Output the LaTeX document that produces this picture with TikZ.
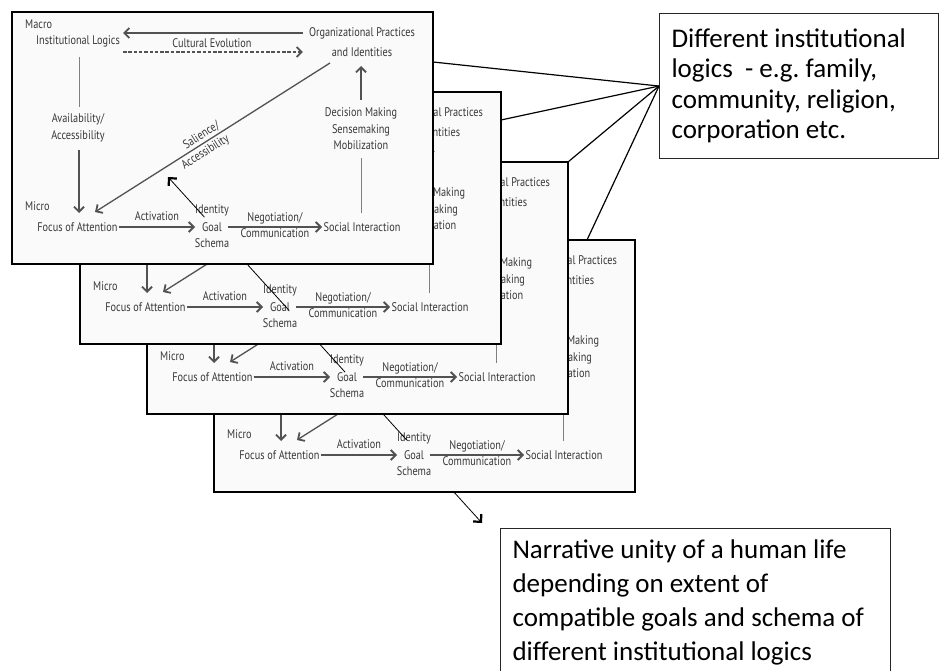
\documentclass[tikz,border=0pt]{standalone}
\usepackage{fontspec}
\setmainfont{Carlito}
\newfontfamily\cardfont[FakeStretch=0.82]{PT Sans}
\usetikzlibrary{arrows.meta,calc}
\frenchspacing

\tikzset{
  cardframe/.style={draw=black, line width=1.1pt, fill=black!2, minimum width=421pt,
    minimum height=252pt, anchor=north west, inner sep=0pt, outer sep=0pt},
  lbl/.style={font=\cardfont\fontsize{12.5}{16.5}\selectfont, text=black!78,
    inner sep=0pt, align=center},
  flow/.style={draw=black!68, line width=1.3pt,
    -{Straight Barb[length=5pt,width=10pt,line width=1.8pt]}},
  flowdash/.style={flow, dash pattern=on 3.5pt off 1.8pt},
  plain/.style={draw=black!50, line width=1pt},
  thinarrow/.style={draw=black, line width=0.8pt},
  bigbarb/.style={-{Straight Barb[length=5.5pt,width=11pt,line width=2.2pt]}},
  pointer/.style={draw=black, line width=1.2pt},
  callbox/.style={draw=black!85, line width=1.1pt, fill=white, anchor=north west,
    align=flush left, inner xsep=12pt, inner ysep=0pt},
}

% One page of the model: frame, labels and its arrows; #1 = name prefix,
% (#2,#3) = top-left corner
\newcommand\drawcard[3]{%
  \begin{scope}[shift={(#2,#3)}]
    \node[cardframe] (#1) at (0,0) {};
    \node[lbl, anchor=west] (#1macro) at (13,12) {Macro};
    \node[lbl] (#1inst) at (66,29) {Institutional Logics};
    \node[lbl] (#1orgA) at (350,21) {Organizational Practices};
    \node[lbl] (#1orgB) at (350,40) {and Identities};
    \node[lbl] (#1cult) at (200,31) {Cultural Evolution};
    \node[lbl] (#1avail) at (66,116) {Availability/\\Accessibility};
    \node[lbl] (#1dec) at (349,117) {Decision Making\\Sensemaking\\Mobilization};
    \node[lbl, anchor=west] (#1micro) at (13,194) {Micro};
    \node[lbl] (#1foc) at (65.5,215) {Focus of Attention};
    \node[lbl] (#1act) at (145,204) {Activation};
    \node[lbl] (#1iden) at (200,198) {Identity};
    \node[lbl] (#1goal) at (200,215) {Goal};
    \node[lbl] (#1sch) at (200,231) {Schema};
    \node[lbl] (#1nego) at (263,206) {Negotiation/};
    \node[lbl] (#1comm) at (263,221) {Communication};
    \node[lbl] (#1soc) at (350,215) {Social Interaction};
    % macro level
    \draw[flow] ($(#1orgA.west)+(-6,0)$) -- ($(#1orgA.west -| #1inst.east)+(3,0)$);
    \draw[flowdash] ($(#1orgB.west -| #1inst.east)+(3,0)$) -- ($(#1orgB.west -| #1orgA.west)+(-6,0)$);
    % macro to micro
    \draw[plain] ($(#1inst.center)+(1,16)$) -- ($(#1avail.center)+(1,-21)$);
    \draw[flow] ($(#1avail.center)+(1,22)$) -- ($(#1foc.center)+(1.5,-14)$);
    \coordinate (#1dA) at ($(#1orgB.center)+(-32,11)$);
    \coordinate (#1dB) at ($(#1foc.center)+(17.5,-15)$);
    \draw[flow] (#1dA) -- (#1dB);
    \node[lbl, rotate=32.4, anchor=south, inner ysep=2pt] (#1sal)
      at ($(#1dA)!0.53!(#1dB)$) {Salience/};
    \node[lbl, rotate=32.4, anchor=north, inner ysep=3pt] (#1acc)
      at ($(#1dA)!0.55!(#1dB)$) {Accessibility};
    % micro level
    \draw[flow] ($(#1foc.center)+(41,0)$) -- ($(#1goal.center)+(-17,0)$);
    \draw[flow] ($(#1goal.center)+(16,0)$) -- ($(#1soc.center)+(-40,0)$);
    % micro to macro
    \draw[plain] ($(#1soc.center)+(-1,-14)$) -- ($(#1dec.center)+(0,29)$);
    \draw[flow] ($(#1dec.center)+(0,-29)$) -- ($(#1orgB.center)+(-1,14)$);
  \end{scope}}

\begin{document}
\begin{tikzpicture}[x=1pt, y=-1pt]
  \useasboundingbox (0,0) rectangle (939,671);
  \fill[white] (0,0) rectangle (939,671);

  % the straight line that runs from the top page to the lower callout
  \coordinate (lnA) at (168,177);
  \coordinate (lnB) at (482,523);

  % stacked pages, back to front
  \drawcard{c4}{214}{240}
  \draw[thinarrow] ($(lnA)!0.645!(lnB)$) -- ($(lnA)!0.760!(lnB)$);
  \drawcard{c3}{147}{162}
  \draw[thinarrow] ($(lnA)!0.413!(lnB)$) -- ($(lnA)!0.564!(lnB)$);
  \drawcard{c2}{80}{92}
  \draw[thinarrow] ($(lnA)!0.182!(lnB)$) -- ($(lnA)!0.384!(lnB)$);
  \drawcard{c1}{12}{12}
  \draw[thinarrow, bigbarb] ($(lnA)!0.116!(lnB)$) -- (lnA);

  % callouts
  \node[callbox, minimum width=279pt, minimum height=145pt, text width=255pt,
        font=\fontsize{27}{30.5}\selectfont] (call1) at (659,13)
        {Different institutional\\logics\ \ - e.g. family,\\community, religion,\\corporation etc.};
  \node[callbox, minimum width=390pt, minimum height=148pt, text width=366pt,
        font=\fontsize{27}{34}\selectfont] (call2) at (500,528)
        {Narrative unity of a human life\\depending on extent of\\compatible goals and schema of\\different institutional logics};

  \draw[pointer] (call1.west) -- ($(c1.north east)+(0,50)$);
  \draw[pointer] (call1.west) -- ($(c2.north east)+(0,28)$);
  \draw[pointer] (call1.west) -- (c3.north east);
  \draw[pointer] (call1.west) -- ($(c4.north west)+(373,0)$);

  \draw[thinarrow, bigbarb] ($(lnA)!0.9104!(lnB)$) -- (lnB);
\end{tikzpicture}
\end{document}
